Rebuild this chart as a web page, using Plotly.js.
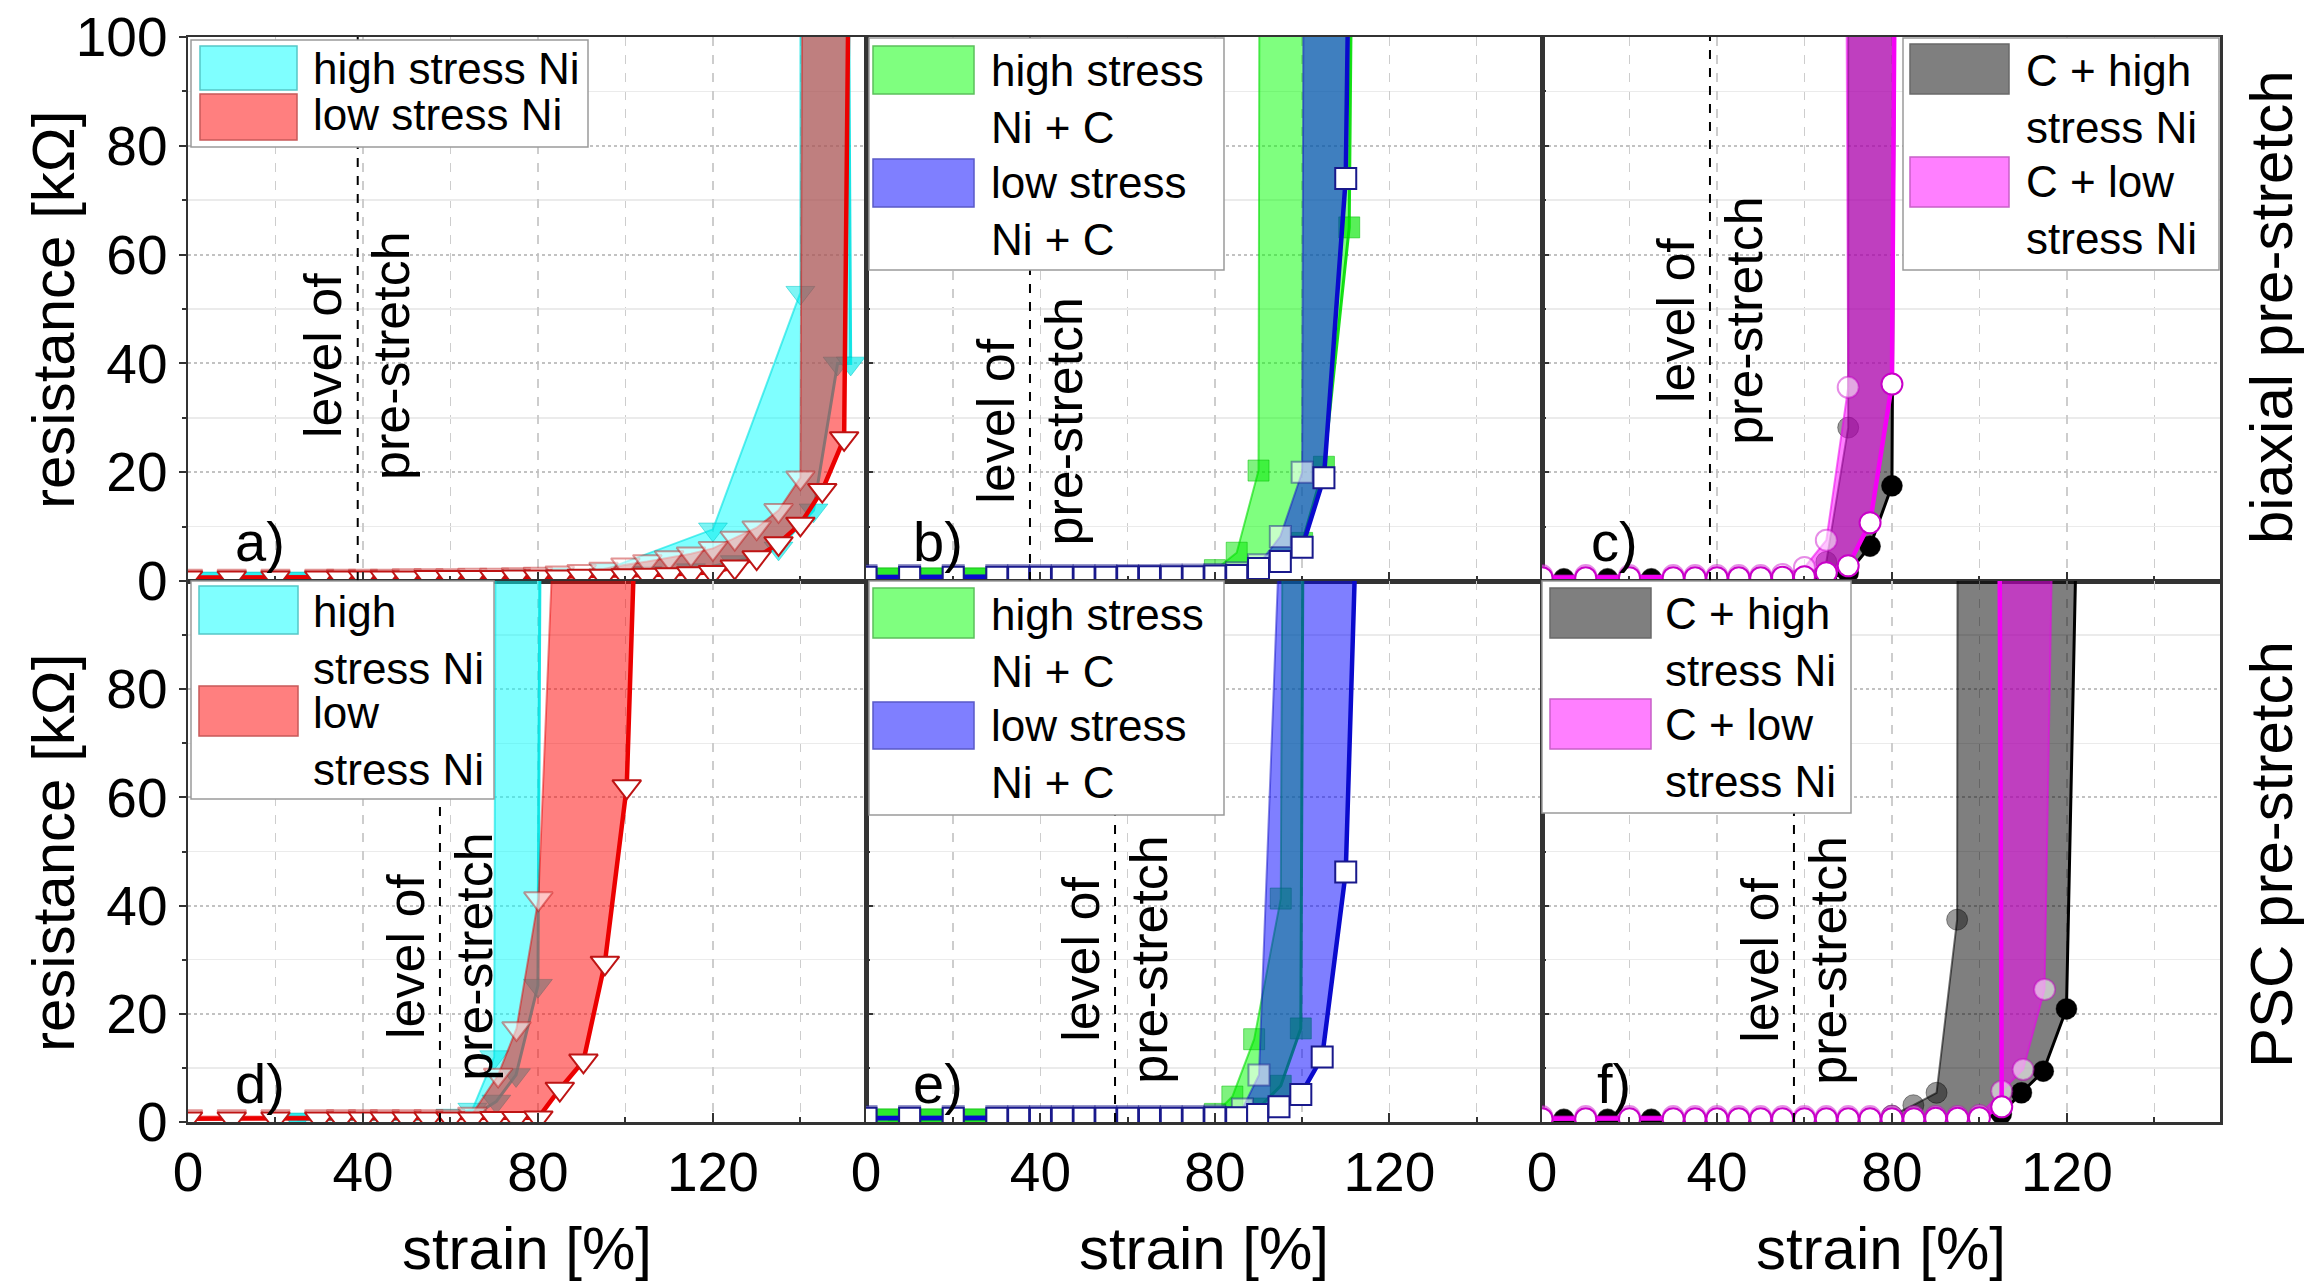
<!DOCTYPE html>
<html>
<head>
<meta charset="utf-8">
<script src="https://cdn.plot.ly/plotly-3.0.1.min.js"></script>
<style>
html,body{margin:0;padding:0;background:#fff;}
#chart{width:2305px;height:1282px;}
</style>
</head>
<body>
<div id="chart"></div>
<script>
// ================= DATA =================
// strain [%] / resistance [kOhm]
// "1" = curve drawn with solid markers, "2" = curve drawn with light markers

// a) biaxial, Ni
const aHighX1 = [5,15,25,35,45,55,65,75,85,95,105,115,125,135,143,148.5,151.5,151];
const aHighY1 = [0.4,0.4,0.4,0.4,0.5,0.5,0.6,0.7,0.9,1.1,1.5,2.0,3.5,6.0,13.0,40.0,40.0,110];
const aHighX2 = [5,15,25,35,45,55,65,75,85,95,120,140,140];
const aHighY2 = [0.5,0.5,0.5,0.5,0.6,0.6,0.7,0.9,1.2,2.0,9.5,53.0,110];
const aLowX1 = [0,10,20,30,35,40,45,50,55,60,65,70,75,80,85,90,95,100,105,110,115,120,125,130,135,140,145,150,151];
const aLowY1 = [0.6,0.6,0.6,0.6,0.6,0.6,0.6,0.6,0.7,0.7,0.7,0.7,0.8,0.8,0.8,0.9,0.9,1.0,1.1,1.2,1.4,1.6,2.6,4.3,6.9,10.5,16.7,26.2,110];
const aLowX2 = [0,10,20,30,35,40,45,50,55,60,65,70,75,80,85,90,95,100,105,110,115,120,125,130,135,140,140.4];
const aLowY2 = [0.9,0.9,0.9,0.9,0.9,0.9,0.9,1.0,1.0,1.0,1.1,1.1,1.2,1.3,1.5,1.8,2.2,3.0,3.6,4.3,5.0,6.0,7.9,9.8,13.0,19.0,110];

// b) biaxial, Ni + C
const bHighX1 = [5,15,25,35,45,55,65,75,85,90,95,100,105,110.8,111.3];
const bHighY1 = [0.4,0.4,0.4,0.4,0.4,0.5,0.5,0.6,0.9,1.8,3.5,7.0,21.0,65.0,110];
const bHighX2 = [5,15,25,35,45,55,65,75,80,85,90,90.2];
const bHighY2 = [0.5,0.5,0.5,0.5,0.5,0.6,0.6,0.8,2.0,5.2,20.3,110];
const bLowX1 = [0,10,20,30,35,40,45,50,55,60,65,70,75,80,85,90,95,100,105,110,110.6];
const bLowY1 = [0.7,0.7,0.7,0.7,0.7,0.7,0.7,0.7,0.7,0.8,0.8,0.8,0.8,0.9,1.0,2.3,3.6,6.2,19.0,74.0,110];
const bLowX2 = [0,10,20,30,35,40,45,50,55,60,65,70,75,80,85,90,95,100,100.3];
const bLowY2 = [1.0,1.0,1.0,1.0,1.0,1.0,1.0,1.0,1.0,1.0,1.0,1.1,1.1,1.2,1.5,3.0,8.2,20.0,110];

// c) biaxial, C + Ni
const cHighX1 = [5,15,25,35,45,55,60,65,70,75,80,80.6];
const cHighY1 = [0.3,0.3,0.3,0.3,0.3,0.4,0.4,0.5,1.5,6.4,17.5,110];
const cHighX2 = [5,15,25,35,45,55,60,65,70,70];
const cHighY2 = [0.4,0.4,0.4,0.4,0.5,0.5,0.8,3.5,28.2,110];
const cLowX1 = [0,10,20,30,35,40,45,50,55,60,65,70,75,80,80.6];
const cLowY1 = [0.6,0.6,0.6,0.6,0.6,0.6,0.6,0.6,0.7,0.8,1.5,2.8,10.7,36.2,110];
const cLowX2 = [0,10,20,30,35,40,45,50,55,60,65,70,69.6];
const cLowY2 = [1.0,1.0,1.0,1.0,1.0,1.0,1.0,1.0,1.2,2.5,7.5,35.6,110];

// d) PSC, Ni
const dHighX1 = [25,35,45,55,60,65,70.5,75,80,80.5];
const dHighY1 = [0.4,0.4,0.4,0.5,0.6,1.0,3.8,8.7,25.2,110];
const dHighX2 = [25,35,45,55,60,65,70,70.3];
const dHighY2 = [0.5,0.5,0.5,0.6,1.2,2.3,12.0,110];
const dLowX1 = [0,10,20,30,35,40,45,50,55,60,65,70,75,80.1,85,90.4,95.3,100.3,102.2];
const dLowY1 = [0.6,0.6,0.6,0.6,0.6,0.6,0.6,0.6,0.6,0.6,0.6,0.7,0.7,0.8,6.1,11.3,29.4,62.0,110];
const dLowX2 = [0,10,20,30,35,40,45,50,55,60,65,70.9,75.1,80.1,83.6];
const dLowY2 = [1.0,1.0,1.0,1.0,1.0,1.0,1.0,1.0,1.0,1.0,1.5,8.7,17.3,41.3,110];

// e) PSC, Ni + C
const eHighX1 = [5,15,25,35,45,55,65,75,85,90,95.1,99.7,100.2];
const eHighY1 = [0.4,0.4,0.4,0.4,0.4,0.4,0.5,0.5,0.8,2.5,6.7,17.3,110];
const eHighX2 = [5,15,25,35,45,55,65,75,80,84,89,95.1,95.5];
const eHighY2 = [0.5,0.5,0.5,0.5,0.5,0.5,0.6,0.6,1.5,4.7,15.3,41.3,110];
const eLowX1 = [0,10,20,30,35,40,45,50,55,60,65,70,75,80,85,89.8,94.7,99.7,104.6,110,112.4];
const eLowY1 = [0.7,0.7,0.7,0.7,0.7,0.7,0.7,0.7,0.7,0.7,0.7,0.7,0.7,0.8,0.8,1.4,2.8,5.1,12.0,46.2,110];
const eLowX2 = [0,10,20,30,35,40,45,50,55,60,65,70,75,80,86.3,90.1,94.9];
const eLowY2 = [1.0,1.0,1.0,1.0,1.0,1.0,1.0,1.0,1.0,1.0,1.0,1.0,1.0,1.1,2.4,8.7,110];

// f) PSC, C + Ni
const fHighX1 = [5,15,25,35,45,55,65,75,85,95,100,105,109.6,114.6,119.9,122.2];
const fHighY1 = [0.4,0.4,0.4,0.4,0.4,0.4,0.4,0.4,0.5,0.5,0.6,1.5,5.4,9.4,20.9,110];
const fHighX2 = [5,15,25,35,45,55,65,75,80,84.9,90.2,94.9,95.0];
const fHighY2 = [0.5,0.5,0.5,0.5,0.5,0.5,0.6,0.7,1.2,3.1,5.4,37.4,110];
const fLowX1 = [0,10,20,30,35,40,45,50,55,60,65,70,75,80,85,90,95,100,105.1,104.6];
const fLowY1 = [0.6,0.6,0.6,0.6,0.6,0.6,0.6,0.6,0.6,0.6,0.6,0.6,0.6,0.6,0.6,0.7,0.7,0.8,2.8,110];
const fLowX2 = [0,10,20,30,35,40,45,50,55,60,65,70,75,80,85,90,95,100,105.1,110,114.9,116.7];
const fLowY2 = [1.0,1.0,1.0,1.0,1.0,1.0,1.0,1.0,1.0,1.0,1.0,1.0,1.0,1.0,1.0,1.0,1.0,1.2,5.7,9.7,24.5,110];

// level of pre-stretch [%] per panel a..f
const preStretch = [38.8, 37.6, 38.4, 57.6, 57.1, 57.6];
const panelLabels = ['a)','b)','c)','d)','e)','f)'];
const rowLabels = ['biaxial pre-stretch','PSC pre-stretch'];
const highNames = ['high stress Ni','high stress<br>Ni + C','C + high<br>stress Ni','high<br>stress Ni','high stress<br>Ni + C','C + high<br>stress Ni'];
const lowNames  = ['low stress Ni','low stress<br>Ni + C','C + low<br>stress Ni','low<br>stress Ni','low stress<br>Ni + C','C + low<br>stress Ni'];
const xTitle = 'strain [%]';
const yTitle = 'resistance [kΩ]';

// ================= STYLE / LAYOUT =================
const FONT = '"Liberation Sans", Arial, Helvetica, sans-serif';
const W = 2305, H = 1282;
const M = {l:188, r:85, t:37, b:160};
const PW = W - M.l - M.r, PH = H - M.t - M.b;
const colEdges = [188, 866, 1542, 2220];
const rowEdges = [37, 581, 1122];
const px2x = px => (px - M.l) / PW;
const py2y = py => (H - M.b - py) / PH;

const families = {
  ni: {sym:'triangle-down', size:25,
       hsFill:'rgba(0,255,255,0.5)', hsLine:'rgba(0,225,225,0.9)', hsLine2:'rgba(0,225,225,0.6)', hsMk:'rgba(0,235,235,0.65)', hsMk2:'rgba(0,235,235,0.5)', hsEdge:'rgba(0,200,200,0.5)',
       lsFill:'rgba(255,0,0,0.5)', lsLine:'rgb(235,0,0)', lsLine2:'rgba(225,0,0,0.45)', lsEdge:'rgb(190,20,20)', lsEdge2:'rgba(190,20,20,0.45)',
       hsSw:'rgba(0,255,255,0.5)', hsSwEdge:'#55c8c8', lsSw:'rgba(255,0,0,0.5)', lsSwEdge:'#c85a5a'},
  nic: {sym:'square', size:21,
       hsFill:'rgba(0,255,0,0.5)', hsLine:'rgba(0,220,0,0.9)', hsLine2:'rgba(0,220,0,0.6)', hsMk:'rgba(0,230,0,0.65)', hsMk2:'rgba(0,230,0,0.5)', hsEdge:'rgba(0,190,0,0.5)',
       lsFill:'rgba(0,0,255,0.5)', lsLine:'rgb(10,10,205)', lsLine2:'rgba(20,20,200,0.5)', lsEdge:'rgb(25,25,140)', lsEdge2:'rgba(25,25,140,0.45)',
       hsSw:'rgba(0,255,0,0.5)', hsSwEdge:'#5cc05c', lsSw:'rgba(0,0,255,0.5)', lsSwEdge:'#5a5ac8'},
  cni: {sym:'circle', size:21,
       hsFill:'rgba(0,0,0,0.5)', hsLine:'rgb(0,0,0)', hsLine2:'rgba(0,0,0,0.55)', hsMk:'rgb(0,0,0)', hsMk2:'rgba(0,0,0,0.4)', hsEdge:'rgba(0,0,0,0.4)',
       lsFill:'rgba(255,0,255,0.5)', lsLine:'rgb(245,0,245)', lsLine2:'rgba(235,0,235,0.55)', lsEdge:'rgb(200,0,200)', lsEdge2:'rgba(200,0,200,0.45)',
       hsSw:'rgba(0,0,0,0.5)', hsSwEdge:'#6a6a6a', lsSw:'rgba(255,0,255,0.5)', lsSwEdge:'#c860c8'}
};
const panelFamily = ['ni','nic','cni','ni','nic','cni'];
const panelData = [
  {h1:[aHighX1,aHighY1], h2:[aHighX2,aHighY2], l1:[aLowX1,aLowY1], l2:[aLowX2,aLowY2]},
  {h1:[bHighX1,bHighY1], h2:[bHighX2,bHighY2], l1:[bLowX1,bLowY1], l2:[bLowX2,bLowY2]},
  {h1:[cHighX1,cHighY1], h2:[cHighX2,cHighY2], l1:[cLowX1,cLowY1], l2:[cLowX2,cLowY2]},
  {h1:[dHighX1,dHighY1], h2:[dHighX2,dHighY2], l1:[dLowX1,dLowY1], l2:[dLowX2,dLowY2]},
  {h1:[eHighX1,eHighY1], h2:[eHighX2,eHighY2], l1:[eLowX1,eLowY1], l2:[eLowX2,eLowY2]},
  {h1:[fHighX1,fHighY1], h2:[fHighX2,fHighY2], l1:[fLowX1,fLowY1], l2:[fLowX2,fLowY2]}
];
// label positions (y value of text centre) per panel
const preTextY = [41.5, 29.5, 48, 30.7, 30, 30];
// legend geometry, px offsets from the panel's top-left corner
const legendGeo = [
  {box:[3,400,3,110], sw:[[12,109,9,53],[12,109,57,103]], tx:123, ty:[31,78]},
  {box:[3,358,1,233], sw:[[7,108,9,57],[7,108,122,170]], tx:123, ty:[61.5,174.5]},
  {box:[361,677,1,233], sw:[[368,467,7,57],[368,467,120,170]], tx:482, ty:[61.5,172.5]},
  {box:[3,306,0,218], sw:[[11,110,5,53],[11,110,105,155]], tx:123, ty:[58.5,159.5]},
  {box:[3,358,0,234], sw:[[7,108,7,57],[7,108,121,168]], tx:123, ty:[61.5,173]},
  {box:[0,309,0,232], sw:[[8,109,7,57],[8,109,118,168]], tx:121, ty:[60.5,172]}
];

const traces = [];
const shapes = [];
const annotations = [];
const layout = {
  width: W, height: H, margin: M,
  paper_bgcolor: '#fff', plot_bgcolor: '#fff',
  showlegend: false,
  font: {family: FONT, size: 44, color: '#000'}
};

for (let i = 0; i < 6; i++) {
  const col = i % 3, row = Math.floor(i / 3);
  const s = i ? String(i + 1) : '';
  const ax = {x: 'x' + s, y: 'y' + s};
  const fam = families[panelFamily[i]];
  const d = panelData[i];

  const band = (c1, c2, fill, name) => ({
    type: 'scatter', mode: 'lines', name: name,
    x: c1[0].concat(c2[0].slice().reverse()),
    y: c1[1].concat(c2[1].slice().reverse()),
    fill: 'toself', fillcolor: fill, line: {width: 0},
    xaxis: ax.x, yaxis: ax.y, hoverinfo: 'skip', showlegend: false
  });
  const curve = (c, lineColor, lineWidth, mk, name) => ({
    type: 'scatter', mode: 'lines+markers', name: name,
    x: c[0], y: c[1], line: {color: lineColor, width: lineWidth},
    marker: mk, xaxis: ax.x, yaxis: ax.y, cliponaxis: true, showlegend: false
  });
  const hName = highNames[i].replace('<br>', ' ');
  const lName = lowNames[i].replace('<br>', ' ');

  traces.push(band(d.h1, d.h2, fam.hsFill, hName));
  traces.push(curve(d.h2, fam.hsLine2, 2, {symbol: fam.sym, size: fam.size, color: fam.hsMk2, line: {color: fam.hsEdge, width: 1}}, hName));
  traces.push(curve(d.h1, fam.hsLine, 3, {symbol: fam.sym, size: fam.size, color: fam.hsMk, line: {color: fam.hsEdge, width: 1}}, hName));
  traces.push(band(d.l1, d.l2, fam.lsFill, lName));
  traces.push(curve(d.l2, fam.lsLine2, 2, {symbol: fam.sym, size: fam.size, color: 'rgba(255,255,255,0.55)', line: {color: fam.lsEdge2, width: 2}}, lName));
  traces.push(curve(d.l1, fam.lsLine, 4.5, {symbol: fam.sym, size: fam.size, color: '#ffffff', line: {color: fam.lsEdge, width: 2}}, lName));

  // axes
  layout['xaxis' + s] = {
    domain: [px2x(colEdges[col]), px2x(colEdges[col + 1])],
    range: [0, 155], anchor: 'y' + s, tickmode: 'linear', tick0: 0, dtick: 40,
    showticklabels: row === 1, ticks: 'inside', ticklen: 9, tickwidth: 2, tickcolor: '#333',
    tickfont: {family: FONT, size: 55, color: '#000'}, ticklabelstandoff: 0,
    showgrid: true, gridcolor: '#cdcdcd', griddash: 'dash', gridwidth: 1.5,
    minor: {tick0: 0, dtick: 20, ticks: 'inside', ticklen: 5, tickcolor: '#333', showgrid: true, gridcolor: '#cdcdcd', griddash: 'dash', gridwidth: 1.5},
    showline: true, linecolor: '#333', linewidth: 2.5, mirror: true, zeroline: false, fixedrange: true
  };
  if (row === 1) layout['xaxis' + s].title = {text: xTitle, font: {family: FONT, size: 60, color: '#000'}, standoff: 34};
  layout['yaxis' + s] = {
    domain: row === 0 ? [py2y(rowEdges[1]), 1] : [0, py2y(rowEdges[1])],
    range: [0, 100], anchor: 'x' + s, tickmode: 'linear', tick0: 0, dtick: 20,
    showticklabels: col === 0, ticks: col === 0 ? 'outside' : 'inside', ticklen: 7, tickwidth: 2, tickcolor: '#333',
    tickfont: {family: FONT, size: 55, color: '#000'}, ticklabelstandoff: 0,
    labelalias: row === 1 ? {'100': ' '} : {},
    showgrid: true, gridcolor: '#c2c2c2', griddash: 'dot', gridwidth: 2,
    minor: {tick0: 0, dtick: 10, ticks: col === 0 ? 'outside' : 'inside', ticklen: 4, tickcolor: '#333', showgrid: true, gridcolor: '#ebebeb', griddash: 'solid', gridwidth: 1.5},
    showline: true, linecolor: '#333', linewidth: 2.5, mirror: true, zeroline: false, fixedrange: true
  };
  if (col === 0) {
    annotations.push({xref: 'paper', yref: 'paper', x: px2x(53), y: py2y(row === 0 ? 310 : 853),
                      text: yTitle, textangle: -90, showarrow: false, xanchor: 'center', yanchor: 'middle',
                      font: {size: 60, color: '#000'}});
  }

  // level of pre-stretch
  shapes.push({type: 'line', xref: ax.x, yref: ax.y, x0: preStretch[i], x1: preStretch[i], y0: 0, y1: 100,
               line: {color: '#000', width: 2, dash: 'dash'}});
  annotations.push({xref: ax.x, yref: ax.y, x: preStretch[i], y: preTextY[i], text: 'level of<br>pre-stretch',
                    textangle: -90, showarrow: false, xanchor: 'center', yanchor: 'middle',
                    font: {size: 52, color: '#000'}});
  // panel label
  annotations.push({xref: ax.x, yref: ax.y, x: 16.5, y: 7.2, text: panelLabels[i], showarrow: false,
                    xanchor: 'center', yanchor: 'middle', font: {size: 56, color: '#000'}});

  // legend (box + swatches + labels)
  const g = legendGeo[i];
  const ox = colEdges[col], oy = rowEdges[row];
  shapes.push({type: 'rect', xref: 'paper', yref: 'paper',
               x0: px2x(ox + g.box[0]), x1: px2x(ox + g.box[1]), y0: py2y(oy + g.box[3]), y1: py2y(oy + g.box[2]),
               fillcolor: '#fff', line: {color: '#9a9a9a', width: 1.5}, layer: 'above'});
  const swFill = [fam.hsSw, fam.lsSw], swEdge = [fam.hsSwEdge, fam.lsSwEdge];
  const names = [highNames[i], lowNames[i]];
  for (let k = 0; k < 2; k++) {
    const r = g.sw[k];
    shapes.push({type: 'rect', xref: 'paper', yref: 'paper',
                 x0: px2x(ox + r[0]), x1: px2x(ox + r[1]), y0: py2y(oy + r[3]), y1: py2y(oy + r[2]),
                 fillcolor: swFill[k], line: {color: swEdge[k], width: 1.5}, layer: 'above'});
    annotations.push({xref: 'paper', yref: 'paper', x: px2x(ox + g.tx), y: py2y(oy + g.ty[k]),
                      text: names[k], showarrow: false, xanchor: 'left', yanchor: 'middle', align: 'left',
                      font: {size: 44, color: '#000'}});
  }
}

// row labels on the right
annotations.push({xref: 'paper', yref: 'paper', x: px2x(2271), y: py2y(307), text: rowLabels[0], textangle: -90,
                  showarrow: false, xanchor: 'center', yanchor: 'middle', font: {size: 60, color: '#000'}});
annotations.push({xref: 'paper', yref: 'paper', x: px2x(2271), y: py2y(855), text: rowLabels[1], textangle: -90,
                  showarrow: false, xanchor: 'center', yanchor: 'middle', font: {size: 60, color: '#000'}});

layout.shapes = shapes;
layout.annotations = annotations;

Plotly.newPlot('chart', traces, layout, {displayModeBar: false, staticPlot: true});
</script>
</body>
</html>
